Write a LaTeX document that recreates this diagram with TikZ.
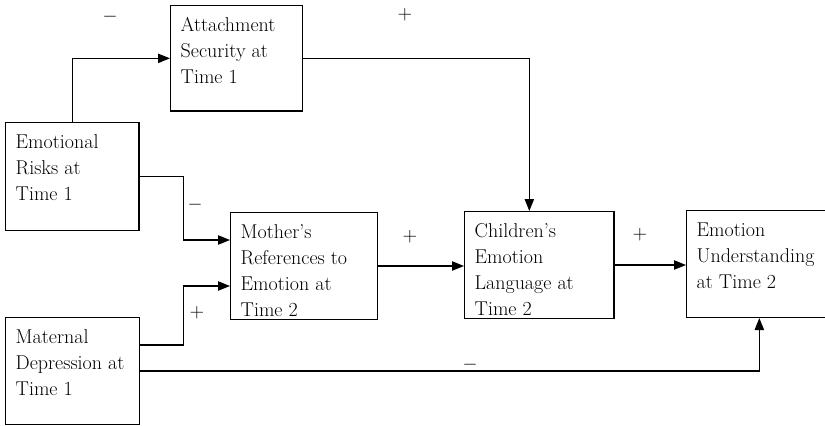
\documentclass[tikz,border=0pt]{standalone}
\usepackage{tikz}
\usetikzlibrary{positioning,arrows.meta,calc}

\tikzset{
  varbox/.style 2 args={draw, line width=1pt, anchor=north west, inner sep=0pt,
    execute at begin node={\begin{minipage}[t][#2][t]{#1}\leftskip=7.5pt\vspace*{9pt}},
    execute at end node={\end{minipage}}},
  link/.style={-{Triangle[length=9pt,width=7pt]}, line width=0.9pt},
  sign/.style={inner sep=0pt}
}

\begin{document}
\begin{tikzpicture}[x=0.75pt, y=-0.75pt, font=\fontsize{15}{19.5}\selectfont]
\useasboundingbox (0,0) rectangle (825,425);
% variables
\node[varbox={99pt}{79pt}] (att) at (170,5) {Attachment\\Security at\\Time 1};
\node[varbox={100pt}{81pt}] (risk) at (5,122) {Emotional\\Risks at\\Time 1};
\node[varbox={100.5pt}{80pt}] (mat) at (5,317) {Maternal\\Depression at\\Time 1};
\node[varbox={110pt}{80pt}] (moth) at (230,212) {Mother's\\References to\\Emotion at\\Time 2};
\node[varbox={112pt}{80pt}] (child) at (464,211) {Children's\\Emotion\\Language at\\Time 2};
\node[varbox={109pt}{80pt}] (emo) at (686,210) {Emotion\\Understanding\\at Time 2};
% paths
\draw[link] (risk.north) |- (att.west);
\draw[link] (att.east) -| ([xshift=-7.5pt]child.north);
\draw[link] (risk.east) -- ++(44,0) |- ([yshift=19.5pt]moth.west);
\draw[link] ([yshift=19.5pt]mat.east) -- ++(43,0) |- ([yshift=-15pt]moth.west);
\draw[link] (moth.east) -- (moth.east -| child.west);
\draw[link] (child.east) -- (child.east -| emo.west);
\draw[link] (mat.east) -| (emo.south);
% signs
\node[sign] (s1) at (110,17) {$-$};
\node[sign] (s2) at (405,15) {$+$};
\node[sign] (s3) at (195,205) {$-$};
\node[sign] (s4) at (197,313) {$+$};
\node[sign] (s5) at (410,237) {$+$};
\node[sign] (s6) at (640,235) {$+$};
\node[sign] (s7) at (470,365) {$-$};
\end{tikzpicture}
\end{document}
